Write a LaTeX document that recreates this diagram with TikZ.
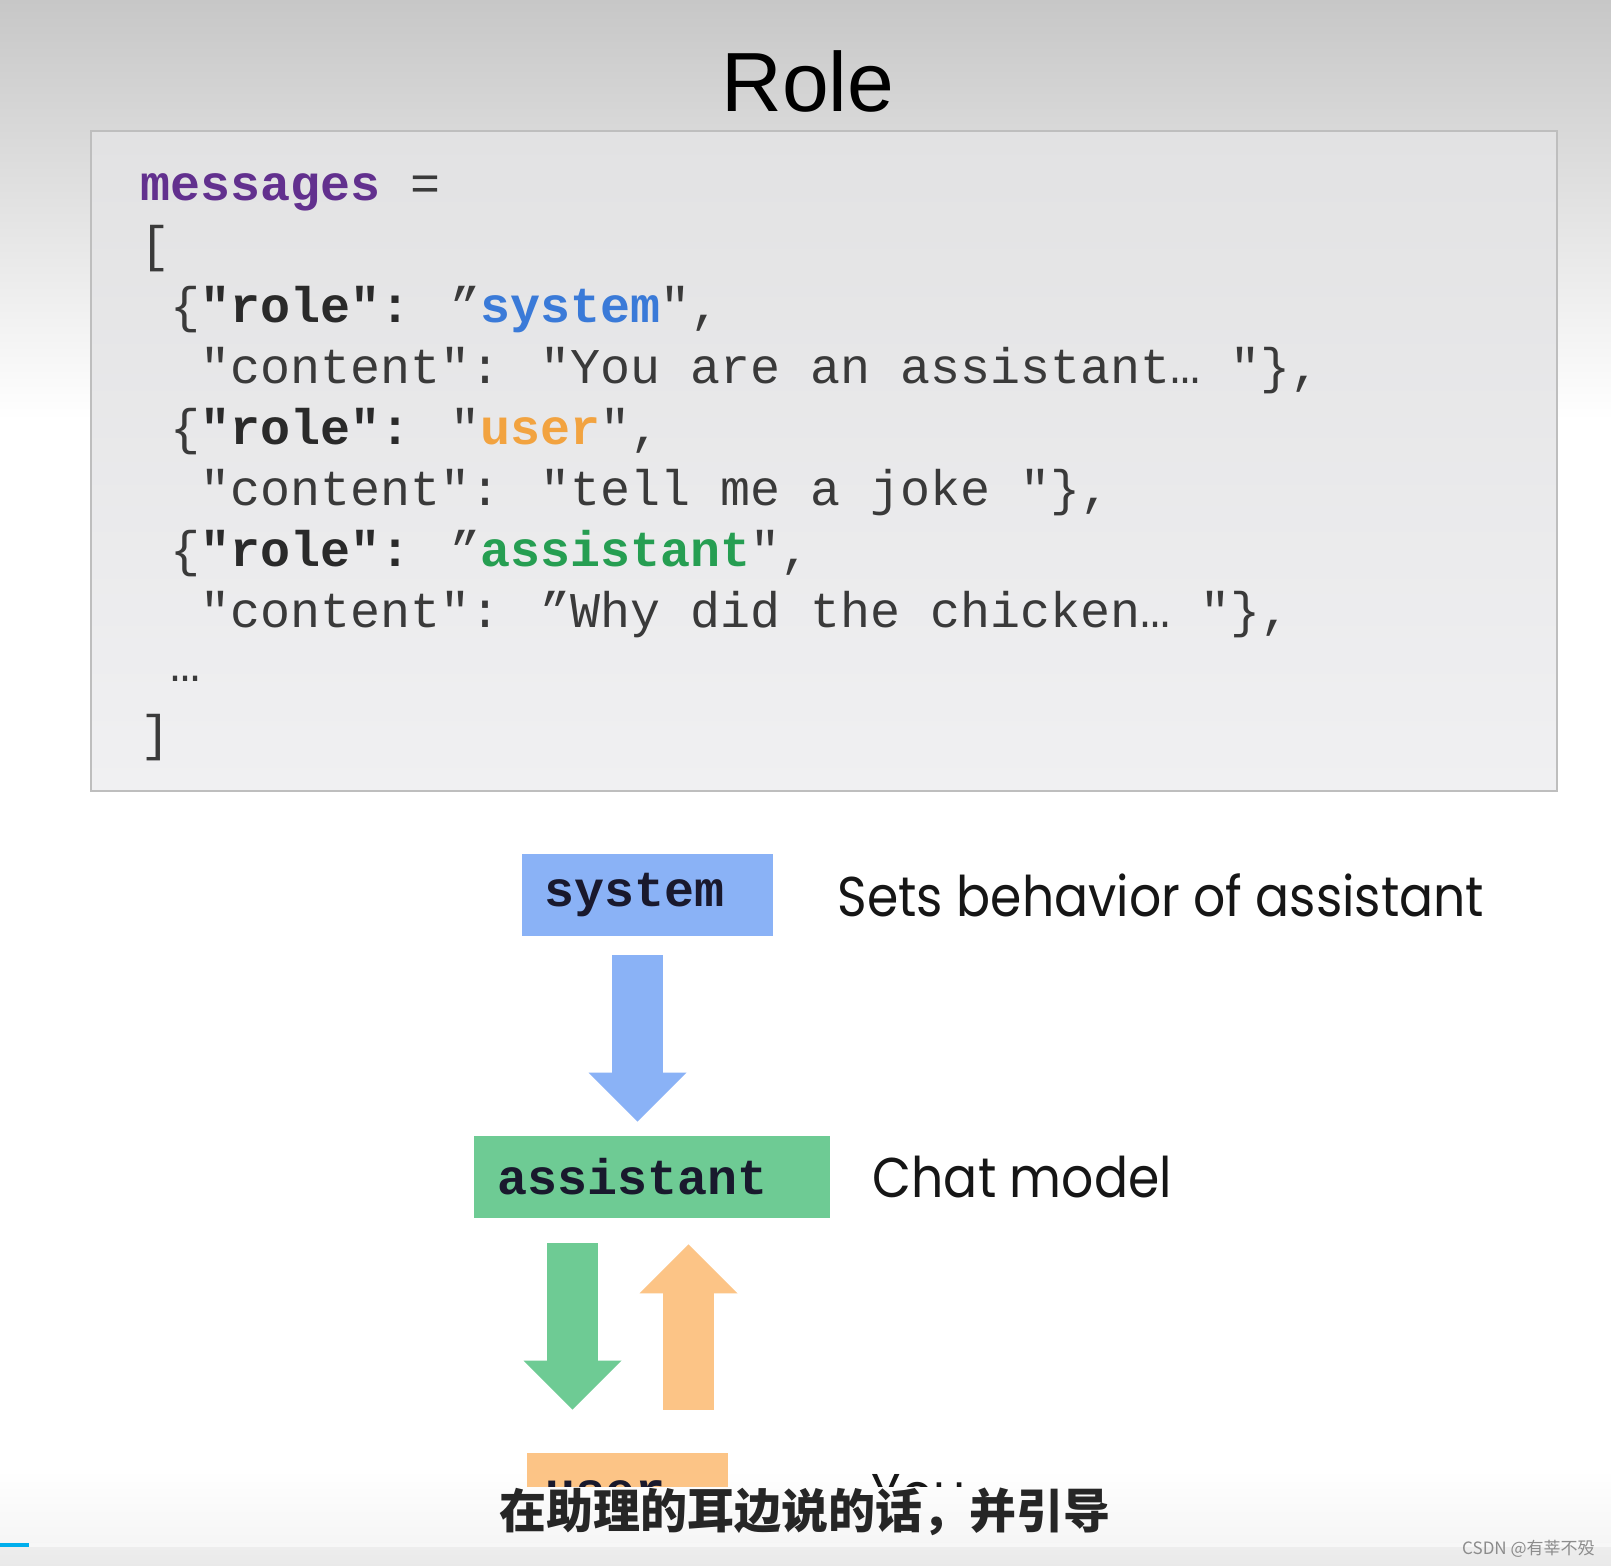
\documentclass[tikz,border=0pt]{standalone}
\usepackage{fontspec}
\usetikzlibrary{positioning}
\usetikzlibrary{arrows.meta}

\setmainfont{Liberation Sans}
\newfontfamily\codefont{Liberation Mono}
\newfontfamily\labelfont{Poppins}[FakeStretch=0.9]
\newfontfamily\cjk{Noto Sans CJK SC}

\definecolor{bgtop}{RGB}{199,199,199}
\definecolor{bgbot}{RGB}{233,233,233}
\definecolor{boxtop}{RGB}{226,226,227}
\definecolor{boxbot}{RGB}{240,240,242}
\definecolor{boxedge}{RGB}{190,190,190}
\definecolor{codegray}{RGB}{58,58,58}
\definecolor{rolegray}{RGB}{42,42,42}
\definecolor{msgpurple}{RGB}{98,48,142}
\definecolor{sysblue}{RGB}{58,122,216}
\definecolor{userorange}{RGB}{242,163,64}
\definecolor{asstgreen}{RGB}{38,158,82}
\definecolor{sysfill}{RGB}{138,178,246}
\definecolor{asstfill}{RGB}{110,203,148}
\definecolor{userfill}{RGB}{252,196,134}
\definecolor{boxtext}{RGB}{25,25,45}
\definecolor{labeltext}{RGB}{22,22,22}
\definecolor{barblue}{RGB}{0,174,236}

\tikzset{
  codeline/.style={anchor=base west, inner sep=0pt, font=\codefont\fontsize{25}{30}\selectfont, text=codegray},
  rolebox/.style={minimum height=41pt, inner ysep=0pt, align=left, font=\codefont\bfseries\fontsize{25}{30}\selectfont, text=boxtext},
  rolelabel/.style={inner sep=0pt, font=\labelfont\fontsize{28}{34}\selectfont, text=labeltext},
  fatarrow/.style={line width=25.5pt, -{Triangle[width=49pt,length=24.5pt,line width=0pt]}},
}

\begin{document}
\begin{tikzpicture}[x=0.5pt,y=-0.5pt]
 \useasboundingbox (0,0) rectangle (1611,1566);
 % background of the video frame
 \fill[white] (0,0) rectangle (1611,1566);
 \shade[top color=bgtop, bottom color=white] (0,0) rectangle (1611,420);
 \shade[top color=white, bottom color=black!4] (0,1470) rectangle (1611,1547);
 \shade[top color=black!7, bottom color=bgbot] (0,1547) rectangle (1611,1566);
 \fill[black!3] (29,1543) rectangle (1611,1547);
 \fill[barblue] (0,1543) rectangle (29,1547);

 \node[font=\fontsize{42}{50}\selectfont] (title) at (808,81) {Role};

 % code block
 \shadedraw[top color=boxtop, bottom color=boxbot, draw=boxedge, line width=1.4pt] (91,131) rectangle (1557,791);
 \node[codeline] (msg) at (140,201) {\textcolor{msgpurple}{\textbf{messages}} =};
 \node[codeline] (open) at (140,262) {[};
 \node[codeline] (sysrole) at (170,323) {\{\textcolor{rolegray}{\textbf{"role":}} ”\textcolor{sysblue}{\textbf{system}}",};
 \node[codeline] (syscont) at (200,384) {"content": "You are an assistant… "\},};
 \node[codeline] (userrole) at (170,445) {\{\textcolor{rolegray}{\textbf{"role":}} "\textcolor{userorange}{\textbf{user}}",};
 \node[codeline] (usercont) at (200,506) {"content": "tell me a joke "\},};
 \node[codeline] (asstrole) at (170,567) {\{\textcolor{rolegray}{\textbf{"role":}} ”\textcolor{asstgreen}{\textbf{assistant}}",};
 \node[codeline] (asstcont) at (200,628) {"content": ”Why did the chicken… "\},};
 \node[codeline] (more) at (170,682) {…};
 \node[codeline] (close) at (140,750) {]};

 % roles
 \node[rolebox, fill=sysfill, text width=103.5pt, inner xsep=11pt] (sys) at (647.5,895) {system};
 \node[rolelabel, right=32pt of sys] (syslabel) {Sets behavior of assistant};
 \node[rolebox, fill=asstfill, text width=155pt, inner xsep=11.5pt] (asst) at (652,1177) {assistant};
 \node[rolelabel, right=21pt of asst] (asstlabel) {Chat model};
 \begin{scope}
  \clip (0,0) rectangle (1611,1486);
  \node[rolebox, fill=userfill, text width=82.5pt, inner xsep=9pt] (user) at (627.5,1494) {user};
  \node[rolelabel, right=71.5pt of user] (userlabel) {You};
 \end{scope}

 \coordinate (sysout) at ([xshift=-5pt,yshift=-9.5pt]sys.south);
 \coordinate (asstin) at ([yshift=7pt]asst.north);
 \coordinate (asstout) at ([xshift=-39.75pt,yshift=-12.5pt]asst.south);
 \coordinate (userin) at ([yshift=21.5pt]user.north);
 \coordinate (userout) at ([xshift=30.5pt,yshift=21.5pt]user.north);
 \coordinate (asstback) at ([yshift=-13pt]asst.south);
 \draw[fatarrow, sysfill] (sysout) -- (sysout |- asstin);
 \draw[fatarrow, asstfill] (asstout) -- (asstout |- userin);
 \draw[fatarrow, userfill] (userout) -- (userout |- asstback);

 % subtitle and watermark
 \node[font=\cjk\bfseries\fontsize{23.5}{28}\selectfont, text=black!85] (sub) at (805,1512) {在助理的耳边说的话，并引导};
 \node[anchor=base east, inner sep=0pt, font=\cjk\fontsize{8.5}{10}\selectfont, text=black!45] (mark) at (1595,1554) {CSDN @有莘不殁};
\end{tikzpicture}
\end{document}
